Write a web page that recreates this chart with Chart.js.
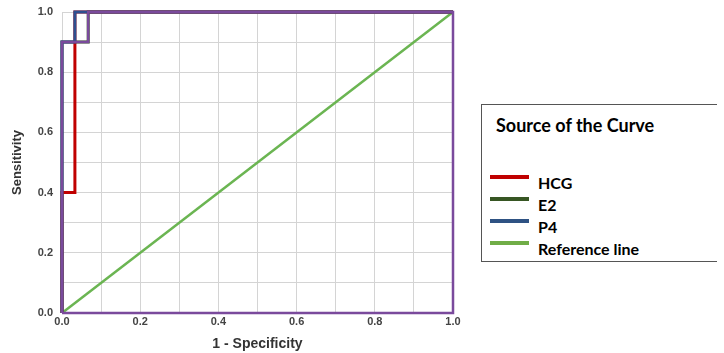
<!DOCTYPE html>
<html>
<head>
<meta charset="utf-8">
<script src="https://cdn.jsdelivr.net/npm/chart.js@4.4.1/dist/chart.umd.min.js"></script>
<style>
  body { margin: 0; background: #fff; width: 724px; height: 353px; position: relative; overflow: hidden; }
  #wrap { position: absolute; left: 0; top: 0; width: 470px; height: 353px; }
  #legend { position: absolute; left: 481px; top: 104px; width: 236px; height: 158px; box-sizing: border-box;
    border: 1px solid #555; border-right: none; font-family: Lato, "Liberation Sans", sans-serif; font-weight: bold; color: #000; }
  #legend .title { position: absolute; left: 14px; top: 9px; font-size: 18px; }
  #legend .item { position: absolute; left: 8px; height: 22px; font-size: 16px; }
  #legend .swatch { position: absolute; left: 0; top: 2px; width: 39px; height: 4px; }
  #legend .label { position: absolute; left: 48px; top: 0; white-space: nowrap; }
</style>
</head>
<body>
<div id="wrap"><canvas id="roc"></canvas></div>
<div id="legend"></div>
<script>
// ROC curves (x = 1 - specificity, y = sensitivity)
const hcgX = [0, 0, 0.033, 0.033, 1];
const hcgY = [0, 0.4, 0.4, 1, 1];
const e2X = [0, 0, 0.067, 0.067, 1];
const e2Y = [0, 0.9, 0.9, 1, 1];
const p4X = [0, 0, 0.033, 0.033, 1];
const p4Y = [0, 0.9, 0.9, 1, 1];
const refX = [0, 1];
const refY = [0, 1];
// plot frame drawn by SPSS in purple, running over the E2 curve
const frameX = [0, 0, 0.067, 0.067, 1, 1, 0];
const frameY = [0, 0.9, 0.9, 1, 1, 0, 0];

const legendNames = ['HCG', 'E2', 'P4', 'Reference line'];
const legendColors = ['#c00000', '#375623', '#2e5283', '#70ad47'];
const legendTitle = 'Source of the Curve';

const pts = (xs, ys) => xs.map((x, i) => ({ x, y: ys[i] }));

const lineSet = (label, xs, ys, color, width, order) => ({
  label,
  data: pts(xs, ys),
  borderColor: color,
  borderWidth: width,
  pointRadius: 0,
  fill: false,
  tension: 0,
  order,
  clip: false,
});

const ctx = document.getElementById('roc').getContext('2d');
new Chart(ctx, {
  type: 'line',
  data: {
    datasets: [
      lineSet('frame', frameX, frameY, '#7a4a9c', 2.5, 1),
      lineSet('P4', p4X, p4Y, '#2e4f8f', 3, 2),
      lineSet('HCG', hcgX, hcgY, '#c00000', 3, 3),
      lineSet('E2', e2X, e2Y, '#375623', 3, 4),
      lineSet('Reference line', refX, refY, '#6bb552', 2.5, 5),
    ]
  },
  options: {
    responsive: true,
    maintainAspectRatio: false,
    animation: false,
    layout: { autoPadding: false, padding: { top: 12, right: 17, left: 10, bottom: 0 } },
    plugins: { legend: { display: false }, tooltip: { enabled: false } },
    scales: {
      x: {
        type: 'linear',
        min: 0, max: 1,
        afterFit: s => { s.height = 40; },
        grid: { color: '#d4d4d4', lineWidth: 1, drawTicks: false },
        border: { display: false },
        ticks: {
          stepSize: 0.1,
          padding: 2,
          color: '#444',
          font: { family: 'Liberation Sans, Arial', size: 11, weight: 'bold' },
          callback: (v, i) => (i % 2 === 0 ? v.toFixed(1) : ''),
        },
        title: {
          display: true,
          text: '1 - Specificity',
          color: '#333',
          padding: { top: 2, bottom: 0 },
          font: { family: 'Liberation Sans, Arial', size: 14, weight: 'bold' },
        },
      },
      y: {
        type: 'linear',
        min: 0, max: 1,
        afterFit: s => { s.width = 52; s.paddingTop = 0; },
        grid: { color: '#d4d4d4', lineWidth: 1, drawTicks: false },
        border: { display: false },
        ticks: {
          stepSize: 0.1,
          padding: 9,
          color: '#444',
          font: { family: 'Liberation Sans, Arial', size: 11, weight: 'bold' },
          callback: (v, i) => (i % 2 === 0 ? v.toFixed(1) : ''),
        },
        title: {
          display: true,
          text: 'Sensitivity',
          color: '#333',
          padding: { top: 0, bottom: 0 },
          font: { family: 'Liberation Sans, Arial', size: 13, weight: 'bold' },
        },
      },
    },
  },
});

// legend box
const lg = document.getElementById('legend');
const t = document.createElement('div');
t.className = 'title';
t.textContent = legendTitle;
lg.appendChild(t);
legendNames.forEach((name, i) => {
  const it = document.createElement('div');
  it.className = 'item';
  it.style.top = (68 + i * 22) + 'px';
  const sw = document.createElement('div');
  sw.className = 'swatch';
  sw.style.background = legendColors[i];
  const lb = document.createElement('div');
  lb.className = 'label';
  lb.textContent = name;
  it.appendChild(sw);
  it.appendChild(lb);
  lg.appendChild(it);
});
</script>
</body>
</html>
